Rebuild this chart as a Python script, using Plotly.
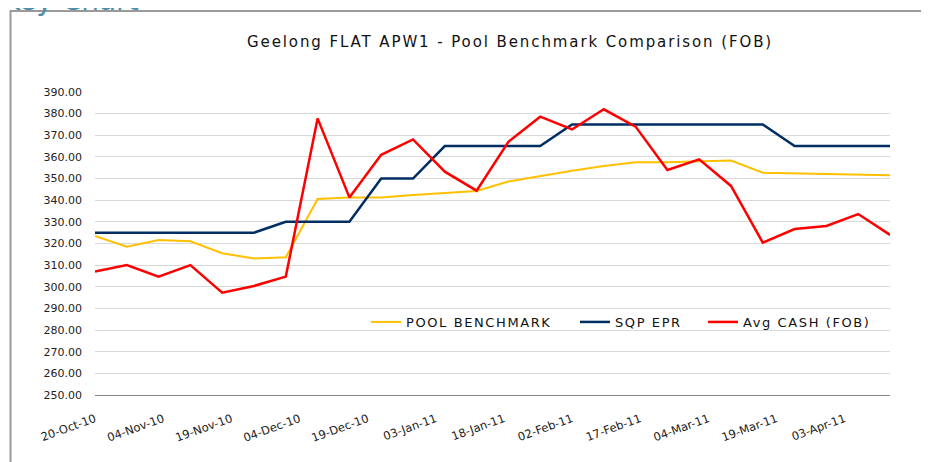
import plotly.graph_objects as go
import pandas as pd

dates = pd.date_range("2010-10-20", periods=26, freq="7D").strftime("%Y-%m-%d").tolist()

pool_benchmark = [323.5, 318.5, 321.6, 321.0, 315.5, 313.1, 313.6, 340.6, 341.3, 341.3,
                  342.4, 343.5, 344.3, 348.6, 351.2, 353.6, 355.8, 357.5, 357.5, 357.8,
                  358.3, 352.7, 352.4, 352.0, 352.0, 351.5]
sqp_epr = [325, 325, 325, 325, 325, 325, 330, 330, 330, 350,
           350, 365, 365, 365, 365, 375, 375, 375, 375, 375,
           375, 375, 365, 365, 365, 365]
avg_cash = [307.0, 310.0, 304.7, 310.0, 297.3, 300.4, 304.7, 377.8, 341.3, 361.0,
            368.1, 353.2, 344.4, 367.0, 378.6, 372.7, 382.0, 374.0, 354.0, 358.9,
            346.6, 320.4, 326.7, 328.1, 333.6, 324.0]

series_names = ["POOL BENCHMARK", "SQP EPR", "Avg CASH (FOB)"]
title_text = "Geelong FLAT APW1 - Pool Benchmark Comparison (FOB)"


def spaced(s, px):
    return '<span style="letter-spacing:%spx">%s</span>' % (px, s)


fig = go.Figure()
fig.add_trace(go.Scatter(x=dates, y=pool_benchmark, mode="lines", name=spaced(series_names[0], 1.6),
                         line=dict(color="#FFC000", width=2), legend="legend"))
fig.add_trace(go.Scatter(x=dates, y=sqp_epr, mode="lines", name=spaced(series_names[1], 1.6),
                         line=dict(color="#002D62", width=2.5), legend="legend2"))
fig.add_trace(go.Scatter(x=dates, y=avg_cash, mode="lines", name=spaced(series_names[2], 1.6),
                         line=dict(color="#FF0000", width=2.5), legend="legend3"))

legend_common = dict(orientation="h", yanchor="middle", y=0.241, xanchor="left",
                     bgcolor="rgba(0,0,0,0)", font=dict(family="DejaVu Sans", size=13, color="#111111"))

# page body has an 8px margin, so the figure is offset by 8px
fig.update_layout(
    width=921, height=454,
    margin=dict(l=87, r=39, t=84, b=67, autoexpand=False),
    paper_bgcolor="white", plot_bgcolor="white",
    showlegend=True,
    legend=dict(x=(366 - 95) / 795, **legend_common),
    legend2=dict(x=(575 - 95) / 795, **legend_common),
    legend3=dict(x=(703 - 95) / 795, **legend_common),
    xaxis=dict(type="date", range=[dates[0], dates[-1]], tick0=dates[0],
               dtick=15 * 86400000, tickformat="%d-%b-%y", tickangle=-20,
               showgrid=False, showline=True, linecolor="#868686", linewidth=1,
               ticks="", ticklabelstandoff=12, automargin=False,
               tickfont=dict(family="DejaVu Sans", size=11.5, color="#222222")),
    yaxis=dict(range=[250, 390], tick0=250, dtick=10, tickformat=".2f",
               showgrid=True, gridcolor="#D9D9D9", gridwidth=1, zeroline=False,
               showline=False, ticks="", ticklabelstandoff=12, automargin=False,
               tickfont=dict(family="DejaVu Sans", size=11, color="#222222")),
    annotations=[
        dict(text=spaced(title_text, 1.9), xref="paper", yref="paper",
             x=(510 - 95) / 795, y=(395 - 42) / 303, xanchor="center", yanchor="middle",
             showarrow=False, font=dict(family="DejaVu Sans", size=15, color="#111111")),
        dict(text="Key Chart", xref="paper", yref="paper",
             x=(0 - 95) / 795, y=(395 - 19) / 303, xanchor="left", yanchor="bottom",
             showarrow=False, font=dict(family="DejaVu Sans", size=28, color="#4E8FA6")),
    ],
    shapes=[
        dict(type="rect", xref="paper", yref="paper",
             x0=(10.5 - 95) / 795, x1=(922 - 95) / 795,
             y0=(395 - 480) / 303, y1=(395 - 11) / 303,
             line=dict(color="#9A9A9A", width=2), fillcolor="rgba(0,0,0,0)", layer="below"),
    ],
)

fig.write_html("out.html")
